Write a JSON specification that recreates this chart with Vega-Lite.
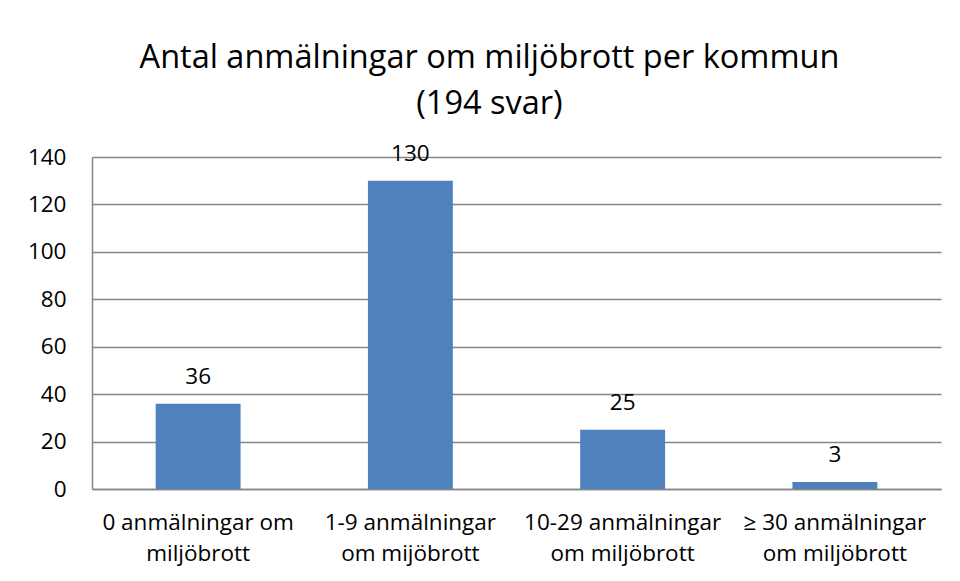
{
  "$schema": "https://vega.github.io/schema/vega-lite/v6.json",
  "width": 849,
  "height": 332,
  "autosize": {"type": "none"},
  "padding": {"left": 92, "top": 157, "right": 19, "bottom": 92},
  "background": "white",
  "title": {
    "text": ["Antal anmälningar om miljöbrott per kommun", "(194 svar)"],
    "fontSize": 32.5,
    "font": "Open Sans",
    "fontWeight": "normal",
    "color": "#000000",
    "lineHeight": 46,
    "anchor": "middle",
    "dx": -27,
    "offset": 22
  },
  "data": {
    "values": [
      {"kategori": "0 anmälningar om|miljöbrott", "antal": 36},
      {"kategori": "1-9 anmälningar|om mijöbrott", "antal": 130},
      {"kategori": "10-29 anmälningar|om miljöbrott", "antal": 25},
      {"kategori": "≥ 30 anmälningar|om miljöbrott", "antal": 3}
    ]
  },
  "encoding": {
    "x": {
      "field": "kategori",
      "type": "nominal",
      "sort": null,
      "scale": {"paddingInner": 0.6, "paddingOuter": 0.3},
      "axis": {
        "title": null,
        "labelAngle": 0,
        "labelExpr": "split(datum.label, '|')",
        "labelFont": "Open Sans",
        "labelFontSize": 22.5,
        "labelColor": "#000000",
        "labelLineHeight": 31,
        "labelPadding": 22,
        "labelBaseline": "top",
        "ticks": false,
        "domainColor": "#868686",
        "domainWidth": 1.5,
        "labelLimit": 300
      }
    },
    "y": {
      "field": "antal",
      "type": "quantitative",
      "scale": {"domain": [0, 140], "nice": false},
      "axis": {
        "title": null,
        "values": [0, 20, 40, 60, 80, 100, 120, 140],
        "labelFont": "Open Sans",
        "labelFontSize": 22.5,
        "labelColor": "#000000",
        "labelPadding": 26,
        "ticks": false,
        "domain": true,
        "domainColor": "#868686",
        "domainWidth": 1.5,
        "gridColor": "#868686",
        "gridWidth": 1.5
      }
    }
  },
  "layer": [
    {"mark": {"type": "bar", "color": "#4F81BD"}},
    {
      "mark": {"type": "text", "baseline": "bottom", "dy": -15, "font": "Open Sans", "fontSize": 22.5, "color": "#000000"},
      "encoding": {"text": {"field": "antal", "type": "quantitative"}}
    }
  ],
  "config": {"view": {"stroke": null}}
}
